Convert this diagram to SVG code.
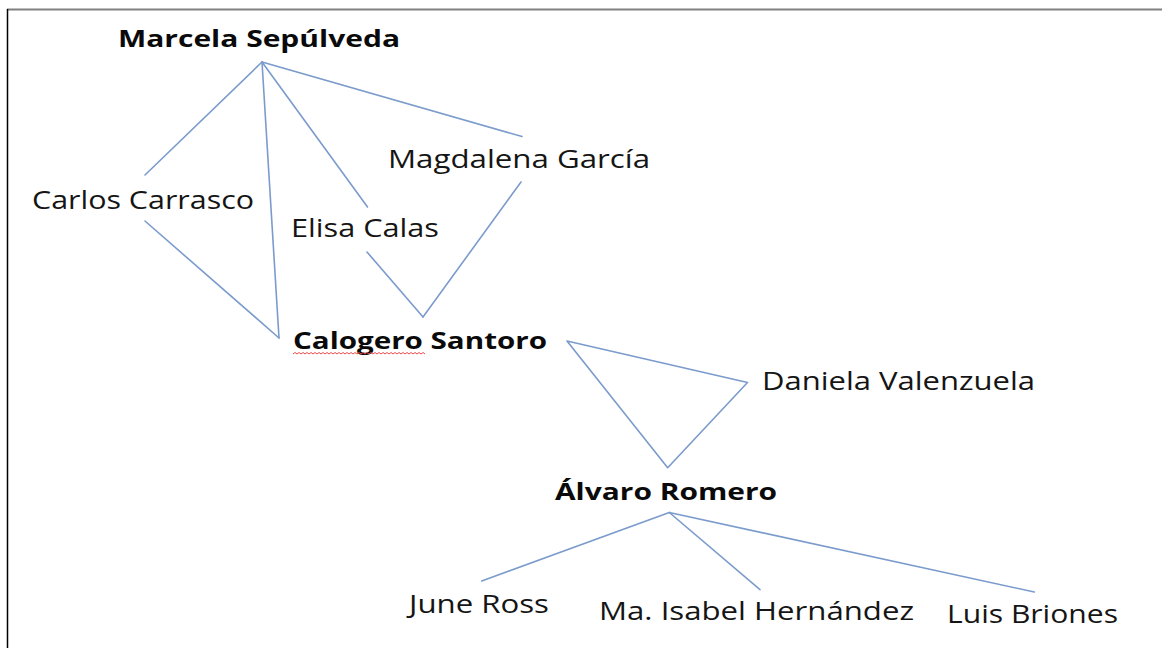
<svg xmlns="http://www.w3.org/2000/svg" width="1162" height="648" viewBox="0 0 1162 648">
<style>
.t{font-family:"Open Sans","Noto Sans",sans-serif;font-size:25px;fill:#151515}
.b{font-family:"Open Sans","Noto Sans",sans-serif;font-size:23px;font-weight:bold;fill:#0a0a0a}
.c{stroke:#7b9bcc;stroke-width:1.6;fill:none;stroke-linecap:round;stroke-linejoin:round}
</style>
<rect width="1162" height="648" fill="#fff"/>
<line x1="7" y1="9.5" x2="1162" y2="9.5" stroke="#808080" stroke-width="2"/>
<line x1="7.5" y1="9" x2="7.5" y2="648" stroke="#000" stroke-width="1.5"/>
<g id="connectors" class="c">
<line x1="262" y1="62" x2="145" y2="175"/>
<line x1="262" y1="62" x2="279" y2="338"/>
<line x1="262" y1="62" x2="367.5" y2="207"/>
<line x1="262" y1="62" x2="522" y2="136.5"/>
<line x1="145" y1="221" x2="279" y2="338"/>
<line x1="367" y1="252" x2="423" y2="317"/>
<line x1="521" y1="182" x2="423" y2="317"/>
<polygon points="567,341 747.5,382.5 667.7,467.7"/>
<line x1="669.3" y1="512.5" x2="481.7" y2="581"/>
<line x1="669.3" y1="512.5" x2="760" y2="589.7"/>
<line x1="669.3" y1="512.5" x2="1034.3" y2="592"/>
</g>
<g id="marcela"><text class="b" x="118" y="47" textLength="282" lengthAdjust="spacingAndGlyphs">Marcela Sepúlveda</text></g>
<g id="carlos"><text class="t" x="32" y="208.5" textLength="222" lengthAdjust="spacingAndGlyphs">Carlos Carrasco</text></g>
<g id="magdalena"><text class="t" x="388" y="168" textLength="262" lengthAdjust="spacingAndGlyphs">Magdalena García</text></g>
<g id="elisa"><text class="t" x="291" y="237" textLength="148" lengthAdjust="spacingAndGlyphs">Elisa Calas</text></g>
<g id="calogero"><text class="b" x="293" y="349" textLength="254" lengthAdjust="spacingAndGlyphs">Calogero Santoro</text>
<path d="M293,354 l2,-1.5 l2,1.5 l2,-1.5 l2,1.5 l2,-1.5 l2,1.5 l2,-1.5 l2,1.5 l2,-1.5 l2,1.5 l2,-1.5 l2,1.5 l2,-1.5 l2,1.5 l2,-1.5 l2,1.5 l2,-1.5 l2,1.5 l2,-1.5 l2,1.5 l2,-1.5 l2,1.5 l2,-1.5 l2,1.5 l2,-1.5 l2,1.5 l2,-1.5 l2,1.5 l2,-1.5 l2,1.5 l2,-1.5 l2,1.5 l2,-1.5 l2,1.5 l2,-1.5 l2,1.5 l2,-1.5 l2,1.5 l2,-1.5 l2,1.5 l2,-1.5 l2,1.5 l2,-1.5 l2,1.5 l2,-1.5 l2,1.5 l2,-1.5 l2,1.5 l2,-1.5 l2,1.5 l2,-1.5 l2,1.5 l2,-1.5 l2,1.5 l2,-1.5 l2,1.5 l2,-1.5 l2,1.5 l2,-1.5 l2,1.5 l2,-1.5 l2,1.5 l2,-1.5 l2,1.5 l2,-1.5 l2,1.5" fill="none" stroke="#e84a4a" stroke-width="1"/></g>
<g id="daniela"><text class="t" x="762" y="390" textLength="273" lengthAdjust="spacingAndGlyphs">Daniela Valenzuela</text></g>
<g id="alvaro"><text class="b" x="555" y="499.5" textLength="222" lengthAdjust="spacingAndGlyphs">Álvaro Romero</text></g>
<g id="june"><text class="t" x="409" y="612.5" textLength="140" lengthAdjust="spacingAndGlyphs">June Ross</text></g>
<g id="isabel"><text class="t" x="599" y="620" textLength="315" lengthAdjust="spacingAndGlyphs">Ma. Isabel Hernández</text></g>
<g id="luis"><text class="t" x="947" y="623" textLength="171" lengthAdjust="spacingAndGlyphs">Luis Briones</text></g>
</svg>
